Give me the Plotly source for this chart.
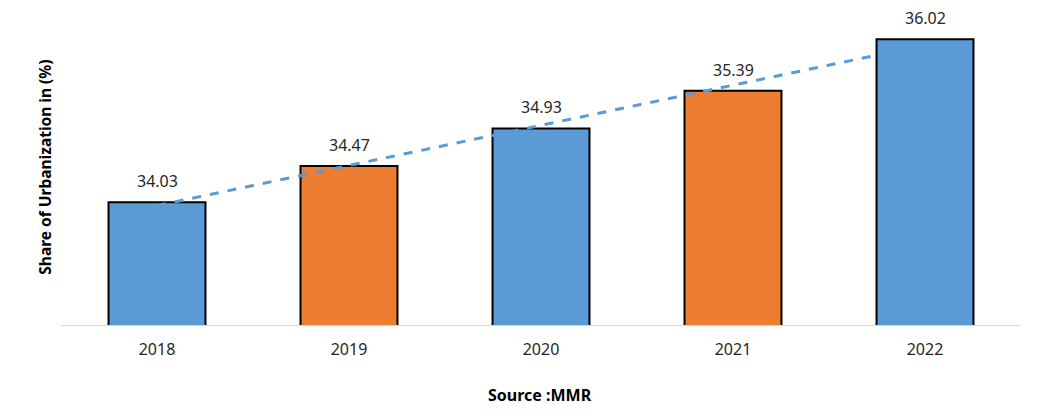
import numpy as np
import plotly.graph_objects as go

years = ["2018", "2019", "2020", "2021", "2022"]
values = [34.03, 34.47, 34.93, 35.39, 36.02]
bar_colors = ["#5b9bd5", "#ed7d31", "#5b9bd5", "#ed7d31", "#5b9bd5"]
y_title = "Share of Urbanization in (%)"
source_text = "Source :MMR"

idx = np.arange(len(values))
slope, intercept = np.polyfit(idx, values, 1)
trend = (slope * idx + intercept).tolist()

FONT = "Noto Sans"

fig = go.Figure()
fig.add_trace(go.Bar(
    x=years, y=values,
    marker=dict(color=bar_colors, line=dict(color="#000000", width=2)),
    showlegend=False,
    hoverinfo="x+y",
))
fig.add_trace(go.Scatter(
    x=years, y=trend, mode="lines",
    line=dict(color="#5b9bd5", width=3, dash="dash"),
    showlegend=False, hoverinfo="skip",
))

annotations = [
    dict(x=i, y=v, xref="x", yref="y", text=f"{v:.2f}", showarrow=False,
         yanchor="bottom", yshift=8,
         font=dict(family=FONT, size=16, color="#262626"))
    for i, v in enumerate(values)
]
annotations += [
    dict(text=f"<b>{y_title}</b>", textangle=-90, xref="paper", yref="paper",
         x=-0.0175, y=0.5, xanchor="center", yanchor="middle", showarrow=False,
         font=dict(family=FONT, size=15.5, color="#000000")),
    dict(text=f"<b>{source_text}</b>", xref="paper", yref="paper",
         x=0.499, y=-0.222, xanchor="center", yanchor="middle", showarrow=False,
         font=dict(family=FONT, size=16, color="#000000")),
]

fig.update_layout(
    width=1041, height=408,
    margin=dict(l=53, r=28, t=2, b=91),
    paper_bgcolor="white", plot_bgcolor="white",
    bargap=0.495,
    font=dict(family=FONT, size=16, color="#262626"),
    xaxis=dict(
        type="category", categoryorder="array", categoryarray=years,
        range=[-0.5, len(years) - 0.5],
        showline=True, linecolor="#d9d9d9", linewidth=1,
        ticks="", tickfont=dict(family=FONT, size=16, color="#262626"),
        ticklabelstandoff=10,
        showgrid=False,
    ),
    yaxis=dict(
        range=[32.53, 36.376], visible=False, showgrid=False,
    ),
    annotations=annotations,
)

fig.write_html("out.html")
